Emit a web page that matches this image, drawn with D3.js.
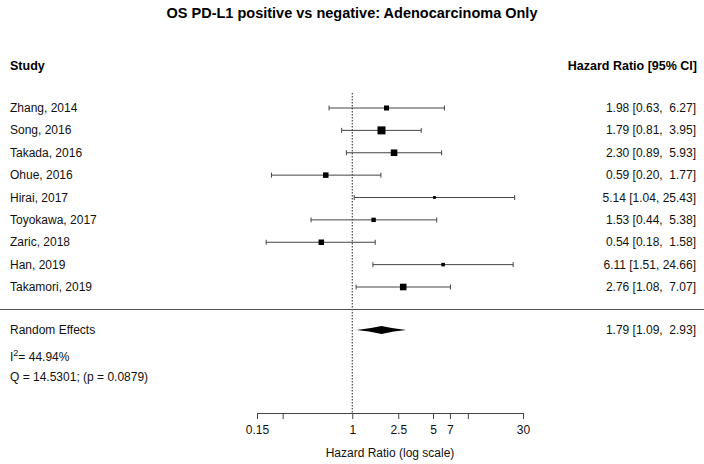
<!DOCTYPE html>
<html>
<head>
<meta charset="utf-8">
<script src="https://cdn.jsdelivr.net/npm/d3@7"></script>
<style>
  html, body { margin: 0; padding: 0; background: #fff; }
  svg { display: block; font-family: "Liberation Sans", Arial, sans-serif; }
  text { white-space: pre; }
</style>
</head>
<body>
<svg id="chart" width="704" height="464"></svg>
<script>
const studies = ["Zhang, 2014", "Song, 2016", "Takada, 2016", "Ohue, 2016", "Hirai, 2017",
                 "Toyokawa, 2017", "Zaric, 2018", "Han, 2019", "Takamori, 2019"];
const hr    = [1.98, 1.79, 2.30, 0.59, 5.14, 1.53, 0.54, 6.11, 2.76];
const lower = [0.63, 0.81, 0.89, 0.20, 1.04, 0.44, 0.18, 1.51, 1.08];
const upper = [6.27, 3.95, 5.93, 1.77, 25.43, 5.38, 1.58, 24.66, 7.07];
const weights = [10.6, 15.8, 13.3, 11.4, 6.7, 9.5, 11.4, 8.1, 13.3];
const pooled = { label: "Random Effects", est: 1.79, lo: 1.09, hi: 2.93 };
const tickValues = [0.15, 0.25, 1, 2.5, 5, 7, 10, 30];
const tickLabels = ["0.15", "", "1", "2.5", "5", "7", "", "30"];
const title = "OS PD-L1 positive vs negative: Adenocarcinoma Only";
const i2Text = "44.94%";
const qText = "Q = 14.5301; (p = 0.0879)";

const svg = d3.select("#chart");
const x = d3.scaleLog().domain([0.15, 30]).range([257, 523]);
const y = d3.scaleLinear().domain([0, studies.length - 1]).range([108, 287]);
const sz = d3.scaleLinear().domain(d3.extent(weights)).range([2.8, 8]);
const fmt = d3.format(".2f");
const pad = v => { const s = fmt(v); return s.length < 5 ? " " + s : s; };
const ciText = (e, l, u) => fmt(e) + " [" + fmt(l) + ", " + pad(u) + "]";

// Title
svg.append("text").attr("x", 352).attr("y", 18).attr("text-anchor", "middle")
  .attr("font-size", 14.5).attr("font-weight", "bold").text(title);

// Headers
svg.append("text").attr("x", 10).attr("y", 70).attr("font-size", 12.5)
  .attr("font-weight", "bold").text("Study");
svg.append("text").attr("x", 697).attr("y", 70).attr("font-size", 12.5)
  .attr("text-anchor", "end").attr("font-weight", "bold").text("Hazard Ratio [95% CI]");

// Reference line
svg.append("line").attr("x1", x(1)).attr("x2", x(1)).attr("y1", 93).attr("y2", 413)
  .attr("stroke", "#222").attr("stroke-width", 1).attr("stroke-dasharray", "1.5,1.5");

// Separator
svg.append("line").attr("x1", 0).attr("x2", 704).attr("y1", 309.5).attr("y2", 309.5)
  .attr("stroke", "#555").attr("stroke-width", 1);

const rows = svg.append("g").selectAll("g").data(studies).join("g");
rows.append("text").attr("x", 10).attr("y", (d, i) => y(i) + 4)
  .attr("font-size", 12).attr("fill", "#111").text(d => d);
rows.append("text").attr("x", 696).attr("y", (d, i) => y(i) + 4)
  .attr("font-size", 12).attr("fill", "#111").attr("text-anchor", "end")
  .text((d, i) => ciText(hr[i], lower[i], upper[i]));
rows.append("line").attr("x1", (d, i) => x(lower[i])).attr("x2", (d, i) => x(upper[i]))
  .attr("y1", (d, i) => y(i)).attr("y2", (d, i) => y(i)).attr("stroke", "#444");
rows.append("line").attr("x1", (d, i) => x(lower[i])).attr("x2", (d, i) => x(lower[i]))
  .attr("y1", (d, i) => y(i) - 2.5).attr("y2", (d, i) => y(i) + 2.5).attr("stroke", "#444");
rows.append("line").attr("x1", (d, i) => x(upper[i])).attr("x2", (d, i) => x(upper[i]))
  .attr("y1", (d, i) => y(i) - 2.5).attr("y2", (d, i) => y(i) + 2.5).attr("stroke", "#444");
rows.append("rect")
  .attr("x", (d, i) => x(hr[i]) - sz(weights[i]) / 2)
  .attr("y", (d, i) => y(i) - sz(weights[i]) / 2)
  .attr("width", (d, i) => sz(weights[i])).attr("height", (d, i) => sz(weights[i]))
  .attr("fill", "#000");

// Pooled
const py = 330;
svg.append("text").attr("x", 10).attr("y", py + 4).attr("font-size", 12).attr("fill", "#111").text(pooled.label);
svg.append("text").attr("x", 696).attr("y", py + 4).attr("font-size", 12).attr("fill", "#111")
  .attr("text-anchor", "end").text(ciText(pooled.est, pooled.lo, pooled.hi));
const xe = x(pooled.est), xl = x(pooled.lo), xh = x(pooled.hi);
svg.append("path")
  .attr("d", `M${xl},${py} Q${(xl + xe) / 2},${py - 1.2} ${xe},${py - 4} Q${(xe + xh) / 2},${py - 1.2} ${xh},${py} ` +
             `Q${(xe + xh) / 2},${py + 1.2} ${xe},${py + 4} Q${(xl + xe) / 2},${py + 1.2} ${xl},${py} Z`)
  .attr("fill", "#000");

// Heterogeneity
const hi = svg.append("text").attr("x", 10).attr("y", 361).attr("font-size", 12).attr("fill", "#111");
hi.append("tspan").text("I");
hi.append("tspan").attr("dy", -5).attr("font-size", 9).text("2");
hi.append("tspan").attr("dy", 5).text("= " + i2Text);
svg.append("text").attr("x", 10).attr("y", 381).attr("font-size", 12).attr("fill", "#111").text(qText);

// Axis
const axis = d3.axisBottom(x).tickValues(tickValues)
  .tickFormat((d, i) => tickLabels[i]).tickSize(6).tickSizeOuter(0).tickPadding(6);
const ag = svg.append("g").attr("transform", "translate(0,413)").call(axis);
ag.select(".domain").attr("stroke", "#444");
ag.selectAll(".tick line").attr("stroke", "#444");
ag.selectAll(".tick text").attr("font-size", 12).attr("fill", "#111")
  .attr("font-family", "Liberation Sans, Arial, sans-serif");
svg.append("text").attr("x", (x.range()[0] + x.range()[1]) / 2).attr("y", 457)
  .attr("text-anchor", "middle").attr("font-size", 12).attr("fill", "#111")
  .text("Hazard Ratio (log scale)");
</script>
</body>
</html>
